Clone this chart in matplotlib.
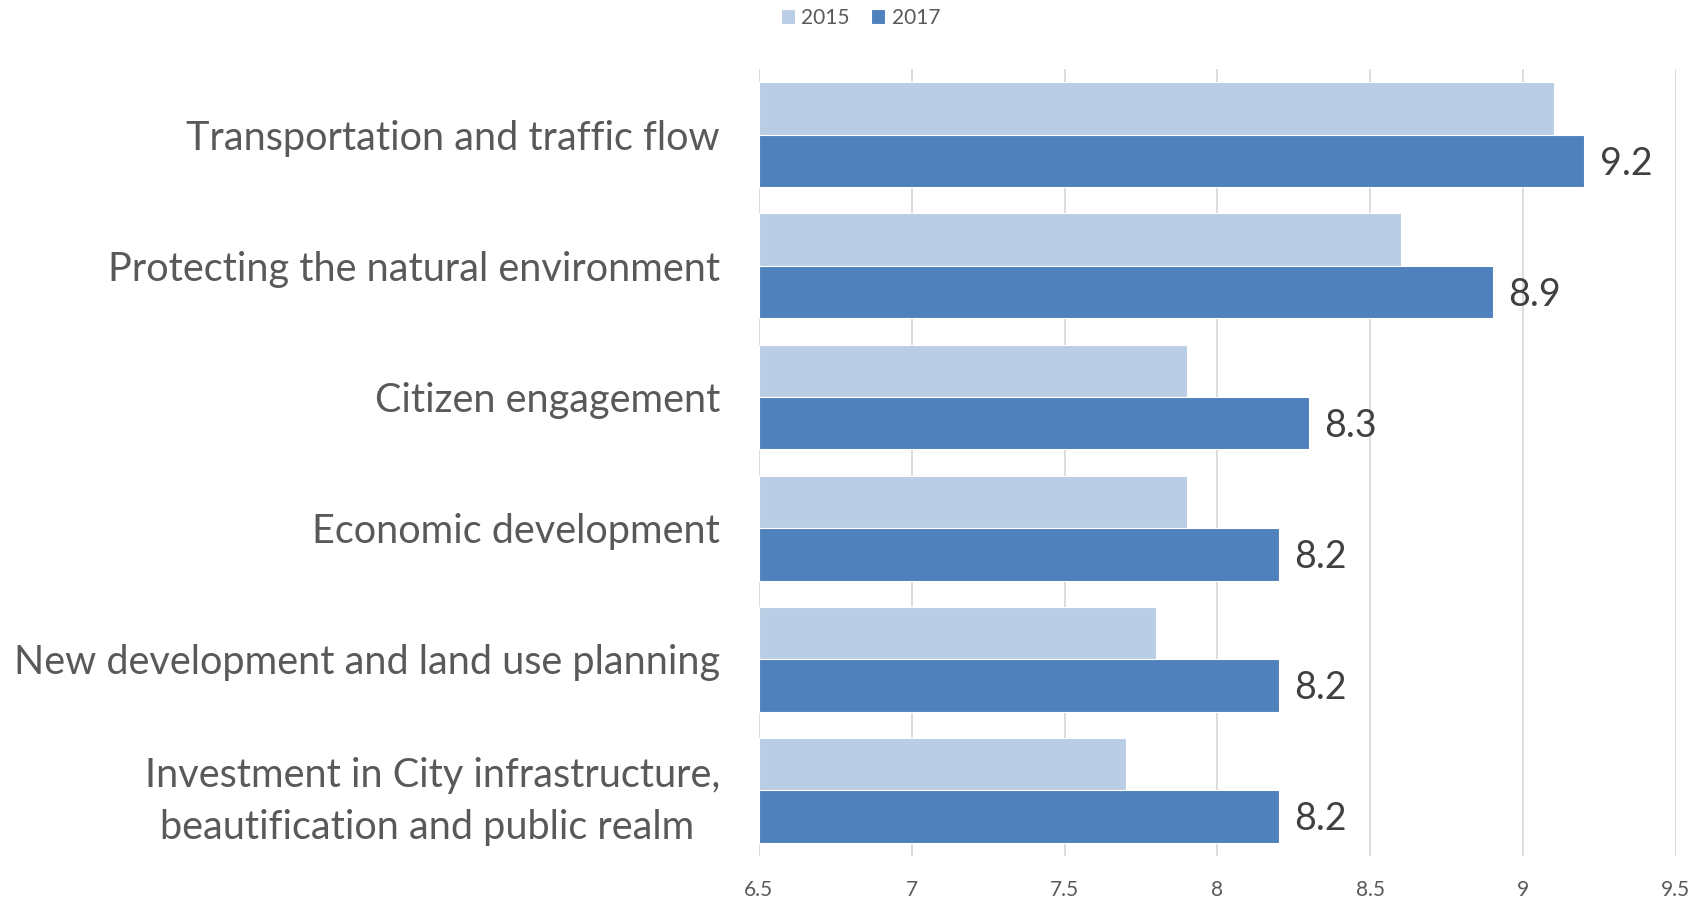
import matplotlib.pyplot as plt
import matplotlib.transforms as mtransforms
import numpy as np

plt.rcParams['font.family'] = ['Lato', 'DejaVu Sans']

# data (top to bottom)
categories = [
    "Transportation and traffic flow",
    "Protecting the natural environment",
    "Citizen engagement",
    "Economic development",
    "New development and land use planning",
    "Investment in City infrastructure,\nbeautification and public realm ",
]
vals_2015 = [9.1, 8.6, 7.9, 7.9, 7.8, 7.7]
vals_2017 = [9.2, 8.9, 8.3, 8.2, 8.2, 8.2]
ticks = [6.5, 7, 7.5, 8, 8.5, 9, 9.5]

light = "#b9cde5"
dark = "#4f81bd"
base = 6.5

fig = plt.figure(figsize=(17.07, 8.98), dpi=100)
ax = fig.add_axes([0.4446, 0.0468, 0.5372, 0.8762])

y = np.arange(len(categories))
h = 0.4
w15 = [v - base for v in vals_2015]
w17 = [v - base for v in vals_2017]
ax.barh(y - h / 2, w15, height=h, left=base, color=light, edgecolor="white",
        linewidth=0.8, label="2015", zorder=2)
ax.barh(y + h / 2, w17, height=h, left=base, color=dark, edgecolor="white",
        linewidth=0.8, label="2017", zorder=2)

for yi, v in zip(y, vals_2017):
    ax.text(v + 0.05, yi + h / 2 + 0.02, f"{v:.1f}", va="center", ha="left",
            fontsize=27, color="#404040")

ax.set_xlim(6.5, 9.5)
ax.set_ylim(len(categories) - 0.5, -0.5)
ax.set_xticks(ticks)
ax.set_xticklabels([f"{t:g}" for t in ticks], fontsize=15, color="#595959")
ax.set_yticks(y)
ax.set_yticklabels(categories, fontsize=28.5, color="#595959", linespacing=1.5)
# nudge category labels up a little
shift = mtransforms.ScaledTranslation(0, 2 / 72, fig.dpi_scale_trans)
for lab in ax.get_yticklabels():
    lab.set_multialignment("center")
    lab.set_transform(lab.get_transform() + shift)
ax.tick_params(axis="y", length=0, pad=28)
ax.tick_params(axis="x", length=0, pad=17)
ax.grid(axis="x", color="#d9d9d9", linewidth=1.3, zorder=0)
for s in ax.spines.values():
    s.set_visible(False)

fig.legend(loc="upper center", bbox_to_anchor=(0.504, 1.012), ncol=2, frameon=False,
           fontsize=15, handlelength=0.7, handleheight=0.7, handletextpad=0.3,
           columnspacing=1.0, labelcolor="#595959")

fig.savefig("out.png", dpi=100)
